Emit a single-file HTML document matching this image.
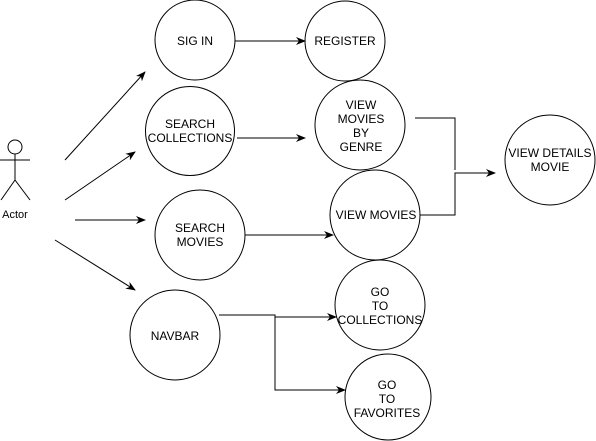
<!DOCTYPE html>
<html><head><style>html,body{margin:0;padding:0;background:#fff;}svg{display:block;}</style></head>
<body>
<svg width="596" height="441" xmlns="http://www.w3.org/2000/svg" font-family="Liberation Sans, sans-serif" font-size="12" fill="none" stroke="#000">
<defs><marker id="a" markerWidth="10" markerHeight="8" refX="9" refY="4" orient="auto" markerUnits="userSpaceOnUse"><path d="M0,0 L10,4 L0,8 L3,4 z" fill="#000" stroke="none"/></marker></defs>
<g stroke-width="1">
<circle cx="15" cy="147" r="7"/>
<line x1="15" y1="154" x2="15" y2="180"/>
<line x1="0" y1="160" x2="30" y2="160"/>
<line x1="15" y1="180" x2="1" y2="200"/>
<line x1="15" y1="180" x2="30" y2="200"/>
<circle cx="195" cy="40" r="40"/>
<circle cx="190" cy="131" r="44.5"/>
<circle cx="200" cy="235" r="45"/>
<circle cx="175" cy="335" r="45"/>
<circle cx="345" cy="41" r="40"/>
<circle cx="360" cy="125" r="45"/>
<circle cx="375" cy="215" r="45"/>
<circle cx="550" cy="160" r="45"/>
<circle cx="380" cy="305" r="45"/>
<circle cx="388" cy="397" r="43"/>
<g marker-end="url(#a)">
<line x1="65" y1="160" x2="145" y2="72"/>
<line x1="65" y1="200" x2="135" y2="152"/>
<line x1="75" y1="220" x2="145" y2="220"/>
<line x1="55" y1="240" x2="135" y2="290"/>
<line x1="235" y1="41" x2="305" y2="41"/>
<line x1="237" y1="138" x2="305" y2="138"/>
<line x1="245" y1="235" x2="333" y2="235"/>
<polyline points="420,215 455,215 455,173 495,173"/>
<polyline points="219,315 275,315 275,317 336,317"/>
<polyline points="275,315 275,390 345,390"/>
</g>
<polyline points="415,118 455,118 455,170"/>
</g>
<g fill="#000" stroke="none" text-anchor="middle">
<text x="15" y="218" font-size="11">Actor</text>
<text x="195" y="45">SIG IN</text>
<text x="190" y="128">SEARCH</text><text x="190" y="142">COLLECTIONS</text>
<text x="200" y="232">SEARCH</text><text x="200" y="246">MOVIES</text>
<text x="175" y="340">NAVBAR</text>
<text x="345" y="45">REGISTER</text>
<text x="361" y="109">VIEW</text><text x="361" y="123">MOVIES</text><text x="361" y="137">BY</text><text x="361" y="151">GENRE</text>
<text x="376" y="219">VIEW MOVIES</text>
<text x="550" y="157">VIEW DETAILS</text><text x="550" y="171">MOVIE</text>
<text x="380" y="296">GO</text><text x="380" y="310">TO</text><text x="380" y="324">COLLECTIONS</text>
<text x="387" y="389">GO</text><text x="387" y="403">TO</text><text x="387" y="417">FAVORITES</text>
</g>
</svg>
</body></html>
